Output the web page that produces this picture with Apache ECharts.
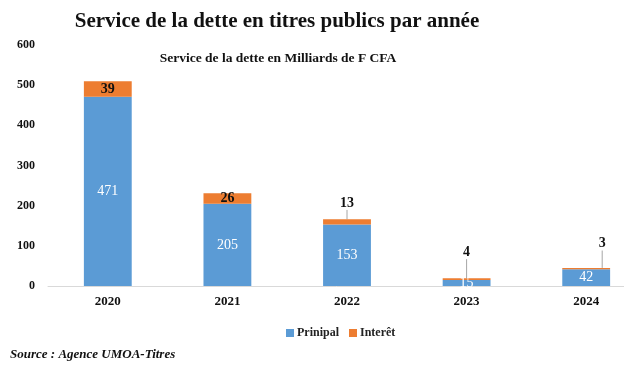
<!DOCTYPE html>
<html>
<head>
<meta charset="utf-8">
<script src="https://cdn.jsdelivr.net/npm/echarts@6/dist/echarts.min.js"></script>
<style>html,body{margin:0;padding:0;background:#fff}#c{width:624px;height:367px}</style>
</head>
<body>
<div id="c"></div>
<script>
const categories = ['2020', '2021', '2022', '2023', '2024'];
const principal = [471, 205, 153, 15, 42];
const interet = [39, 26, 13, 4, 3];
const yTicks = [0, 100, 200, 300, 400, 500, 600];

const serif = '"Liberation Serif", "Times New Roman", serif';
const chart = echarts.init(document.getElementById('c'));
const outsideShift = [null, null, {dx: 0, dy: -19}, {dx: 0, dy: -27}, {dx: 16, dy: -25}];

chart.setOption({
  animation: false,
  title: [
    {text: 'Service de la dette en titres publics par année', left: 272, top: 6, textAlign: 'center',
     textStyle: {fontFamily: serif, fontSize: 21, fontWeight: 'bold', color: '#111'}},
    {text: 'Service de la dette en Milliards de F CFA', left: 273, top: 47, textAlign: 'center',
     textStyle: {fontFamily: serif, fontSize: 13.5, fontWeight: 'bold', color: '#111'}},
    {text: 'Source : Agence UMOA-Titres', left: 5, top: 343,
     textStyle: {fontFamily: serif, fontSize: 13, fontWeight: 'bold', fontStyle: 'italic', color: '#111'}}
  ],
  legend: {
    left: 281, top: 322, itemWidth: 8, itemHeight: 8, itemGap: 10, icon: 'rect',
    textStyle: {fontFamily: serif, fontSize: 12, fontWeight: 'bold', color: '#222', padding: [0, 0, 0, -2]},
    data: ['Prinipal', 'Interêt']
  },
  grid: {left: 48, width: 598, top: 45, bottom: 81, containLabel: false, outerBoundsMode: 'none'},
  xAxis: {
    type: 'category', data: categories,
    axisLine: {lineStyle: {color: '#d9d9d9'}}, axisTick: {show: false},
    axisLabel: {fontFamily: serif, fontSize: 13, fontWeight: 'bold', color: '#111', margin: 9}
  },
  yAxis: {
    type: 'value', min: yTicks[0], max: yTicks[yTicks.length - 1], interval: 100,
    splitLine: {show: false}, axisLine: {show: false}, axisTick: {show: false},
    axisLabel: {fontFamily: serif, fontSize: 12, fontWeight: 'bold', color: '#111', margin: 13}
  },
  series: [
    {name: 'Prinipal', type: 'bar', stack: 't', data: principal, barWidth: '40%',
     itemStyle: {color: '#5B9BD5'},
     label: {show: true, position: 'inside', color: '#fff', fontFamily: serif, fontSize: 14}},
    {name: 'Interêt', type: 'bar', stack: 't', data: interet, barWidth: '40%',
     itemStyle: {color: '#ED7D31'},
     label: {show: true, position: 'inside', color: '#111', fontFamily: serif, fontSize: 14, fontWeight: 'bold'},
     labelLine: {show: true, lineStyle: {color: '#a6a6a6', width: 1}},
     labelLayout: function (p) { return outsideShift[p.dataIndex] || {}; }}
  ]
});
</script>
</body>
</html>
